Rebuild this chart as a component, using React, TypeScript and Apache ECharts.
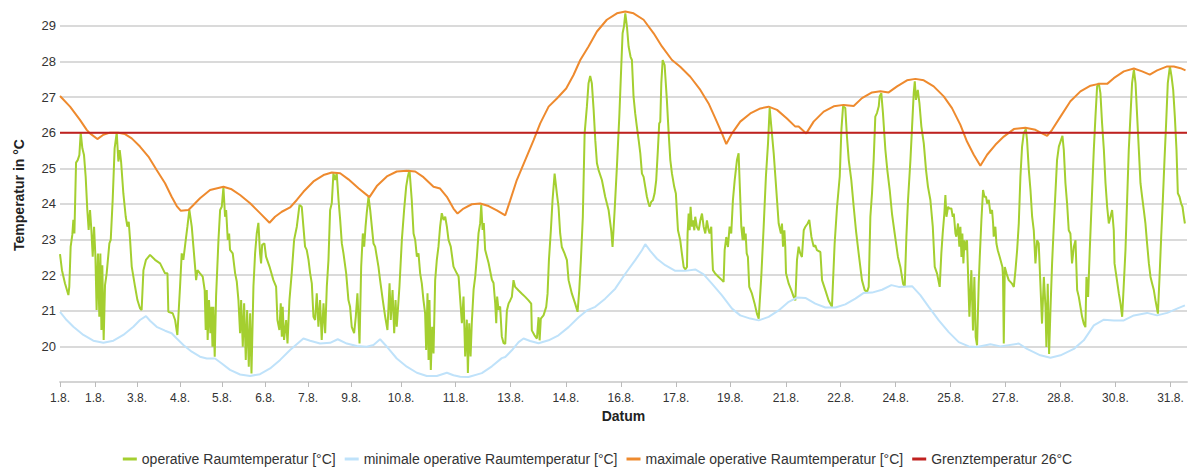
import React, { useEffect, useRef } from "react";
import * as echarts from "echarts";

// x = Messpunkt (hourly index), y = °C
const X_MAX = 751;
const Y_MIN = 19;
const Y_MAX = 29.5;
const LIMIT = 26;

const tickPositions = [0, 23.3, 51.3, 80, 108, 136.7, 165.3, 194, 227.3, 263.7, 300.3, 337.1, 373.8, 410.5, 446.7, 483.8, 520.2, 556.9, 593.5, 630, 666.7, 703.3, 740];
const tickLabels = ["1.8.", "1.8.", "3.8.", "4.8.", "5.8.", "6.8.", "7.8.", "9.8.", "10.8.", "11.8.", "13.8.", "14.8.", "16.8.", "17.8.", "19.8.", "21.8.", "22.8.", "24.8.", "25.8.", "27.8.", "28.8.", "30.8.", "31.8."];

const seriesNames = [
  "operative Raumtemperatur [°C]",
  "minimale operative Raumtemperatur [°C]",
  "maximale operative Raumtemperatur [°C]",
  "Grenztemperatur 26°C",
];

const operativeTemp: [number, number][] = [
  [0,22.59],[1.3,22.14],[3.3,21.77],[5.6,21.44],[6.2,21.68],[7.1,22.8],[8.2,23.13],[8.9,23.55],[9.6,23.17],[10.7,25.16],[11.8,25.23],[12.9,25.37],[13.8,26.0],[14.9,25.56],[16,25.37],[17.1,24.77],[18.2,23.83],[19.1,23.27],[20,23.83],[20.9,23.27],[21.8,22.52],[22.7,23.36],[23.6,22.52],[24.4,21.02],[25.3,22.61],[26.2,20.83],[26.9,22.61],[27.6,20.46],[28.2,22.28],[29.1,20.18],[30,21.72],[31.1,22.05],[32.9,22.89],[33.8,22.99],[35.1,24.11],[36.4,25.56],[37.8,26.0],[38.9,25.19],[39.8,25.51],[40.7,25.19],[42.2,24.3],[43.8,23.64],[44.9,23.36],[45.8,23.5],[46.7,22.99],[47.8,22.24],[50,21.68],[51.6,21.3],[53.3,21.07],[54.4,21.02],[55.6,22.14],[57.3,22.43],[60,22.57],[63.3,22.43],[66.7,22.33],[70,22.05],[71.6,22.05],[72.2,20.97],[75.1,20.93],[76.7,20.74],[78.2,20.32],[80,21.68],[81.1,22.61],[82.2,22.43],[83.8,22.99],[84.9,23.36],[86.2,23.83],[87.8,23.36],[88.9,22.8],[90,22.24],[90.7,21.86],[91.6,22.14],[93.3,22.05],[95.1,21.96],[96.4,21.58],[97.1,20.46],[97.8,21.58],[98.4,20.18],[99.3,21.3],[100.2,20.37],[100.9,21.11],[101.6,19.99],[102.2,21.11],[103.1,19.71],[104,21.4],[105.6,22.99],[106.7,23.83],[107.8,23.92],[108.9,24.47],[110,23.64],[110.7,23.83],[111.8,22.99],[112.7,23.17],[113.3,22.71],[115.1,22.61],[116.7,22.05],[117.8,21.82],[118.9,21.3],[120,20.37],[120.7,21.3],[121.8,19.99],[122.7,21.21],[123.8,19.62],[124.7,21.02],[125.8,19.43],[126.7,20.93],[127.6,19.24],[128.9,21.68],[130,22.61],[131.1,23.17],[132.2,23.47],[133.3,22.61],[134,22.33],[134.7,22.85],[136.2,22.89],[137.3,22.52],[139.6,22.24],[142.2,21.86],[144,21.68],[144.9,20.74],[146.2,20.46],[147.1,21.21],[147.8,20.27],[148.4,21.11],[149.3,20.18],[150.7,20.74],[151.6,20.08],[152.9,21.3],[154.4,22.05],[156,22.99],[157.8,23.36],[159.6,23.97],[161.1,23.92],[162.2,23.36],[163.3,22.8],[164.4,22.71],[165.6,22.43],[166.7,22.05],[167.8,21.77],[168.9,20.83],[170,20.74],[171.1,21.49],[172.2,20.55],[173.3,21.3],[174.4,20.18],[175.6,21.21],[176.7,20.37],[177.8,21.68],[178.9,22.43],[180,23.83],[181.1,24.02],[182.2,24.86],[183.3,24.67],[184.4,24.86],[185.6,24.11],[186.7,23.55],[187.8,22.89],[188.9,22.61],[190.7,22.05],[192.2,21.3],[193.3,21.11],[194.4,20.55],[196,20.37],[197.1,20.83],[198.2,21.49],[199.6,20.08],[200.7,22.24],[201.8,23.17],[202.7,22.8],[203.6,23.36],[204.4,23.74],[205.6,24.2],[206.7,23.83],[207.8,23.36],[208.9,22.89],[210,22.8],[211.1,22.52],[212.2,22.24],[213.3,21.86],[215.1,21.3],[216.7,20.83],[218.2,20.46],[219.6,21.77],[220.4,20.74],[221.6,21.58],[222.7,20.37],[223.6,21.3],[224.4,20.55],[226.2,21.68],[227.8,22.99],[229.3,23.83],[230.7,24.49],[231.8,24.77],[232.9,24.95],[234.4,24.11],[235.6,23.17],[236.7,22.99],[237.8,22.52],[238.9,22.61],[240,22.05],[241.1,21.77],[242.2,21.3],[243.3,20.93],[244,19.9],[244.9,21.49],[245.6,19.62],[246.2,21.3],[247.1,19.34],[248,20.55],[248.9,19.8],[250,21.86],[251.1,22.43],[252.2,22.8],[253.3,23.36],[254.4,23.74],[255.6,23.55],[256.7,23.64],[257.8,23.36],[258.9,22.99],[260.4,22.8],[262.2,22.24],[264.4,22.05],[265.6,21.96],
  [267.8,20.65],[268.9,21.4],[270,19.72],[271.1,20.75],[271.8,19.25],[272.7,20.65],[273.6,19.72],[274.4,20.65],[275.6,21.59],[276.7,21.96],[277.8,22.52],[278.9,23.18],[280,23.46],[280.7,23.97],[281.6,23.27],[282.4,23.46],[283.3,22.71],[285.6,22.34],[287.8,21.87],[288.9,21.78],[290,21.21],[290.7,20.65],[291.3,21.4],[292.2,21.03],[293.3,21.12],[294.4,20.28],[295.6,20.09],
  [296.7,20.07],[297.8,21.01],[298.9,21.2],[300,21.29],[301.1,21.39],[302.2,21.86],[303.3,21.67],[305.6,21.57],[307.8,21.48],[310,21.39],[312.2,21.29],[314,21.2],[314.4,20.45],[316.2,20.31],[317.8,20.22],[318.9,20.82],[319.6,20.17],[320.4,20.78],[322.2,20.87],[324,21.11],[324.9,21.48],[325.8,22.42],[327.1,23.26],[328.2,24.1],[329.6,24.85],[331.1,24.29],[332.2,23.92],[333.3,23.17],[334.4,22.79],[336.2,22.61],[337.8,22.42],[338.9,21.86],[341.1,21.48],[343.3,21.2],[344.9,20.97],[346,21.57],[347.1,22.42],[348.4,23.64],[349.6,25.98],[351.1,26.73],[352.2,27.39],[353.3,27.59],[354.4,27.39],[355.6,26.64],[356.7,25.79],[357.8,25.14],[358.9,24.95],[361.1,24.67],[363.3,24.2],[365.6,23.82],[367.3,23.26],[368.2,22.79],[369.6,23.82],[371.1,25.04],[372.7,26.45],[374,27.85],[374.9,28.79],[375.8,28.98],[376.7,29.35],[377.8,28.98],[378.9,28.42],[380.2,28.13],[381.1,28.04],[382.2,27.01],[383.3,26.54],[384.4,26.17],[385.6,25.79],[386.7,25.42],[387.8,24.85],[388.9,24.76],[390,24.48],[391.1,24.2],[392.2,24.01],[392.9,23.92],[394,24.06],[395.1,24.1],[396.2,24.29],[397.3,24.67],[398.4,25.51],[399.3,26.26],[400,26.31],[400.7,27.39],[401.6,28.04],[402.9,27.9],[404.4,26.92],[405.6,25.98],[406.7,25.23],[407.8,24.85],[409.3,24.48],[410.4,24.29],[411.8,23.26],[413.3,22.98],[414.4,22.61],[415.6,22.23],[416.7,22.16],[417.8,22.23],[418.2,23.17],[418.9,23.73],[419.6,23.26],[420.2,23.92],[421.1,23.36],[421.8,23.54],[422.7,23.26],[423.3,23.64],[424.4,23.36],[425.6,23.26],[426.7,23.54],[427.8,23.73],[428.9,23.36],[430,23.17],[431.1,23.54],[432.2,23.26],[432.9,23.17],[434,23.36],[434.4,22.79],[435.1,22.14],[436.7,22.04],[438.9,21.95],[441.1,21.86],[442.2,21.81],[442.9,22.7],[444,23.07],[445.1,22.79],[446.2,23.36],[447.3,23.17],[448.4,24.1],[449.6,24.67],
  [451.1,25.23],[452.2,25.42],[453.1,24.39],[454,23.36],[454.9,22.98],[455.6,23.36],[456.2,22.98],[456.9,23.17],[457.6,22.61],[458.4,22.51],[459.3,21.67],[461.1,21.48],[462.9,21.2],[464.4,20.92],[465.6,20.78],[467.3,21.95],[468.9,23.36],[470.4,24.77],[471.8,25.7],[472.9,26.69],[474,26.17],[475.6,25.42],[476.7,24.77],[477.8,24.11],[478.9,23.45],[480.4,23.17],[481.1,23.45],[481.8,22.8],[482.7,23.26],[483.3,22.8],[483.8,22.05],[485.6,21.76],[487.3,21.58],[488.9,21.39],[490,21.29],[491.1,22.42],[492.2,22.8],[493.3,22.61],[494.4,22.51],[495.6,23.26],[496.7,23.36],[498.2,23.45],[499.3,23.55],[500.7,23.08],[502.2,22.8],[503.3,22.84],[504.4,22.7],[506.7,22.65],[507.8,21.86],[510,21.58],[512.2,21.29],[514.4,21.11],[516.2,22.89],[517.8,23.92],[519.6,24.77],[520.7,26.08],[521.8,26.74],[523.3,26.69],[524.4,25.89],[525.6,25.23],[527.3,24.67],[528.9,23.92],[530.4,23.26],[532.2,22.61],[534.4,21.86],[536.2,21.58],[537.8,21.53],[538.9,21.67],[540,23.64],[541.1,24.3],[542.2,25.23],[543.3,26.45],[544.4,26.55],[545.6,26.74],[546.2,27.02],[547.3,27.11],[548.4,26.55],[550,25.52],[551.3,24.95],[552.9,24.39],[554.4,23.73],[556.2,23.17],[558.4,22.51],[560,22.23],[561.8,21.76],[562.9,21.67],[564,23.08],[565.1,24.11],[566.7,25.23],[567.8,26.17],[568.9,27.11],[569.6,27.44],[570.4,26.92],[571.6,27.2],[572.7,26.83],[574,26.17],[575.6,25.7],[577.1,24.95],[578.4,24.48],[580,24.11],[581.6,23.36],[582.9,22.23],[584.4,22.05],[586.2,21.67],[587.3,22.61],[588.2,23.17],[589.3,23.73],[590,24.25],[590.7,23.64],[591.8,23.92],[592.7,23.87],[594,23.87],[594.9,23.64],[595.6,23.73],[596.7,23.17],[597.3,23.08],[598.4,23.45],[599.3,22.8],
  [600,23.36],[600.7,22.51],[601.3,23.17],[602,22.33],[602.7,22.98],[603.3,22.7],[604.4,22.98],[605.3,21.76],[606,20.83],[607.3,22.14],[608.4,20.45],[609.3,21.95],[610.2,20.26],[611.1,20.03],[612.2,21.76],[612.9,22.51],[614,23.55],[615.1,24.39],[616,24.2],[617.1,24.2],[617.8,24.01],[618.9,24.11],[620,23.73],[621.1,23.83],[621.8,23.45],[622.2,23.08],[623.3,23.36],[624,22.89],[624.9,22.7],[626.2,22.51],[628,22.23],[628.4,21.95],[628.9,20.08],[629.6,22.23],[630.7,22.05],[632.2,21.86],[634.4,21.76],[635.6,21.67],[636.7,22.14],[637.8,22.7],[638.9,23.45],[640,24.77],[641.1,25.61],[642.2,25.98],[643.6,26.1],[644.4,25.8],[645.6,24.95],[646.7,24.39],[647.8,23.64],[648.9,23.26],[650,22.33],[651.1,22.98],[652.2,22.89],[653.3,21.76],[654.4,20.64],[655.6,21.95],[656.7,21.11],[657.3,19.98],[658.2,21.76],[659.1,19.79],[660,21.01],[661.1,22.33],[662.2,23.36],[664.4,25.23],[665.6,25.61],[668,25.91],[668.9,25.52],[670,24.58],[671.1,24.01],[672.2,23.26],[673.3,23.17],[674.4,22.33],[675.6,22.8],[676.7,22.98],[677.8,21.58],[678.9,21.39],[680,21.11],[681.1,20.83],[682.2,20.64],[683.3,20.54],[684,21.95],[685.1,21.39],[686.2,22.7],[687.8,24.39],[688.9,25.52],[690,26.45],[691.1,27.3],[692.2,27.39],[693.3,27.11],[694.4,26.27],[695.6,25.52],[696.7,24.58],[697.8,23.92],[698.9,23.45],[700,23.64],[701.1,23.83],[702.2,23.26],[702.7,22.33],[704,21.95],[705.6,21.48],[706.7,21.2],[707.8,20.83],[708.9,21.76],[710,22.7],[711.1,24.11],[712.2,25.52],[713.3,26.45],[714.4,27.39],[715.6,27.77],[716.7,27.39],[717.8,26.45],[718.9,25.52],[720,24.58],[721.1,24.2],[722.2,23.83],[723.3,23.45],[724.4,22.89],[725.6,22.33],[726.7,21.95],[727.8,21.76],[728.9,21.58],[730,21.29],[731.6,20.92],[732.7,21.95],[733.8,23.08],[734.9,24.11],[736,25.23],[737.1,26.27],[738.2,27.39],[739.6,27.86],[740.7,27.58],[741.8,27.2],[742.9,26.45],[744,25.52],[744.9,24.3],[746,24.2],[747.1,24.01],[748,23.92],[748.9,23.64],[749.6,23.45],
];

const minTemp: [number, number][] = [
  [0,20.97],[4.4,20.74],[8.9,20.55],[15.6,20.32],[22.2,20.16],[28.9,20.1],[35.6,20.16],[42.2,20.32],[48.9,20.55],[53.3,20.74],[57.3,20.85],[60,20.72],[64.4,20.55],[70,20.44],[74.4,20.37],[77.8,20.22],[82.2,20.04],[87.8,19.85],[93.3,19.71],[97.8,19.66],[103.3,19.66],[107.8,19.52],[113.3,19.34],[120,19.21],[126.7,19.17],[133.3,19.22],[140,19.38],[146.7,19.62],[153.3,19.9],[162.2,20.22],[166.7,20.16],[173.3,20.08],[180,20.1],[185.1,20.2],[191.1,20.08],[197.8,20.01],[204.4,19.99],[208.9,20.04],[213.3,20.2],[218.9,19.94],[224.4,19.66],[231.1,19.43],[237.8,19.26],[244.4,19.17],[251.1,19.17],[257.8,19.26],[262.2,19.19],[266.7,19.15],[272.2,19.14],[281.1,19.25],[287.8,19.44],[294.4,19.67],[296.7,19.7],[301.1,19.89],[305.6,20.12],[308.9,20.22],[313.3,20.15],[318.9,20.09],[325.6,20.17],[332.2,20.31],[338.9,20.54],[345.6,20.82],[351.1,21.01],[356.7,21.11],[363.3,21.34],[370,21.62],[376.7,22.04],[383.3,22.42],[387.8,22.7],[390,22.87],[393.3,22.68],[397.8,22.46],[403.3,22.28],[410,22.12],[416.7,22.12],[423.3,22.16],[428.9,22.02],[434.4,21.76],[441.1,21.43],[447.8,21.06],[453.3,20.87],[460,20.78],[465.6,20.73],[472.2,20.83],[478.9,21.01],[485.6,21.25],[491.1,21.37],[496.7,21.36],[503.3,21.2],[510,21.09],[516.7,21.09],[523.3,21.18],[530,21.34],[535.6,21.5],[541.1,21.51],[547.8,21.59],[554,21.72],[558.9,21.67],[567.8,21.69],[573.3,21.44],[578.9,21.11],[585.6,20.73],[592.2,20.4],[598.9,20.12],[605.6,20.0],[611.1,19.98],[620,20.06],[626.7,20.0],[638.9,20.08],[644.4,19.93],[653.3,19.75],[660,19.68],[666.7,19.75],[675.6,19.93],[682.2,20.17],[688.9,20.59],[695.6,20.75],[702.2,20.73],[708.9,20.73],[715.6,20.87],[724.4,20.94],[731.1,20.87],[737.8,20.94],[744.4,21.06],[749.6,21.15],
];

const maxTemp: [number, number][] = [
  [0,27.03],[6.7,26.73],[13.3,26.36],[17.8,26.08],[20,25.98],[24.9,25.82],[28.9,25.94],[33.3,26.0],[38.9,26.0],[43.3,25.96],[47.8,25.84],[53.3,25.61],[58.9,25.33],[64.4,24.95],[70,24.58],[74.4,24.2],[77.8,23.94],[80.4,23.81],[85.6,23.83],[88.9,23.97],[93.3,24.16],[100,24.39],[108.9,24.48],[114.4,24.41],[120,24.25],[126.7,24.02],[133.3,23.74],[139.6,23.47],[143.3,23.64],[147.8,23.78],[153.3,23.9],[157.8,24.11],[162.2,24.34],[168.9,24.63],[175.6,24.81],[181.1,24.88],[186.7,24.86],[192.2,24.69],[198.9,24.44],[206.2,24.19],[211.1,24.5],[217.8,24.77],[224.4,24.91],[231.1,24.93],[236.7,24.91],[242.2,24.75],[248.9,24.48],[253.3,24.43],[257.8,24.2],[262.2,23.87],[264.9,23.73],[268.9,23.87],[274.4,23.99],[280,24.01],[285.6,23.94],[291.1,23.82],[296.7,23.68],[300,24.1],[304.4,24.67],[310,25.23],[315.6,25.79],[320,26.26],[325.6,26.73],[331.1,26.96],[337.3,27.24],[342.2,27.62],[346.7,28.04],[352.2,28.42],[357.8,28.84],[364.4,29.17],[371.1,29.35],[376.7,29.4],[382.2,29.35],[388.9,29.17],[395.6,28.79],[401.1,28.42],[407.8,28.04],[413.3,27.85],[420,27.57],[426.7,27.2],[432.2,26.82],[436.7,26.4],[441.1,25.98],[444,25.68],[447.8,25.98],[453.3,26.31],[460,26.54],[466.7,26.68],[472.2,26.73],[477.8,26.64],[484.4,26.4],[490,26.17],[492.2,26.17],[497.3,25.98],[502.2,26.31],[508.9,26.59],[515.6,26.74],[522.2,26.78],[528.9,26.75],[534.4,26.97],[541.1,27.13],[546.7,27.16],[552.2,27.13],[557.8,27.3],[564.4,27.47],[570,27.51],[575.6,27.47],[582.2,27.3],[588.9,27.02],[594.4,26.69],[600,26.22],[604.4,25.75],[608.9,25.38],[613.3,25.07],[617.8,25.38],[623.3,25.66],[628.9,25.89],[635.6,26.1],[643.3,26.14],[650,26.08],[654.4,25.98],[657.8,25.91],[661.1,26.08],[666.7,26.45],[673.3,26.88],[680,27.16],[686.7,27.32],[692.2,27.37],[697.8,27.37],[702.2,27.53],[708.9,27.72],[715.6,27.8],[721.1,27.72],[726.2,27.63],[731.1,27.75],[737.8,27.86],[742.2,27.86],[746.7,27.81],[750,27.75],
];

const colors = ["#a4cf30", "#bfe2fa", "#ee8a2e", "#c0211f"];
const FONT = "'Liberation Sans', Arial, sans-serif";

export default function App() {
  const ref = useRef<HTMLDivElement>(null);
  useEffect(() => {
    document.body.style.margin = "0";
    const chart = echarts.init(ref.current!, null, { renderer: "svg" });
    const lineSeries = (name: string, data: [number, number][], color: string) => ({
      name,
      type: "line",
      data,
      showSymbol: false,
      symbol: "none",
      lineStyle: { color, width: 2 },
      itemStyle: { color },
      emphasis: { disabled: true },
    });
    chart.setOption({
      animation: false,
      textStyle: { fontFamily: FONT },
      grid: { left: 60, right: 8, top: 8, bottom: 86 },
      legend: {
        top: 447,
        left: "center",
        icon: "rect",
        itemWidth: 14,
        itemHeight: 3,
        itemGap: 9,
        textStyle: { fontSize: 14, color: "#333", fontFamily: FONT },
        data: seriesNames,
      },
      xAxis: {
        type: "value",
        min: 0,
        max: X_MAX,
        name: "Datum",
        nameLocation: "middle",
        nameGap: 27,
        nameTextStyle: { fontSize: 14, fontWeight: "bold", color: "#222", fontFamily: FONT },
        axisLine: { show: true, lineStyle: { color: "#d4d4d4", width: 2 } },
        axisTick: { show: true, customValues: tickPositions, length: 5, lineStyle: { color: "#bbb", width: 1 } },
        axisLabel: {
          customValues: tickPositions,
          margin: 10,
          fontSize: 12,
          color: "#333",
          fontFamily: FONT,
          formatter: (v: number) => {
            const i = tickPositions.indexOf(v);
            return i >= 0 ? tickLabels[i] : "";
          },
        },
        splitLine: { show: false },
      },
      yAxis: {
        type: "value",
        min: Y_MIN,
        max: Y_MAX,
        interval: 1,
        name: "Temperatur in °C",
        nameLocation: "middle",
        nameGap: 34,
        nameTextStyle: { fontSize: 14, fontWeight: "bold", color: "#222", fontFamily: FONT },
        axisLine: { show: false },
        axisTick: { show: false },
        axisLabel: { showMinLabel: false, showMaxLabel: false, margin: 4, fontSize: 13, color: "#333", fontFamily: FONT },
        splitLine: { show: true, showMinLine: false, showMaxLine: false, lineStyle: { color: "#dadada", width: 2 } },
      },
      series: [
        lineSeries(seriesNames[0], operativeTemp, colors[0]),
        lineSeries(seriesNames[1], minTemp, colors[1]),
        lineSeries(seriesNames[2], maxTemp, colors[2]),
        lineSeries(seriesNames[3], [[0, LIMIT], [X_MAX, LIMIT]], colors[3]),
      ],
    });
    return () => chart.dispose();
  }, []);
  return <div ref={ref} style={{ width: 1195, height: 468 }} />;
}
